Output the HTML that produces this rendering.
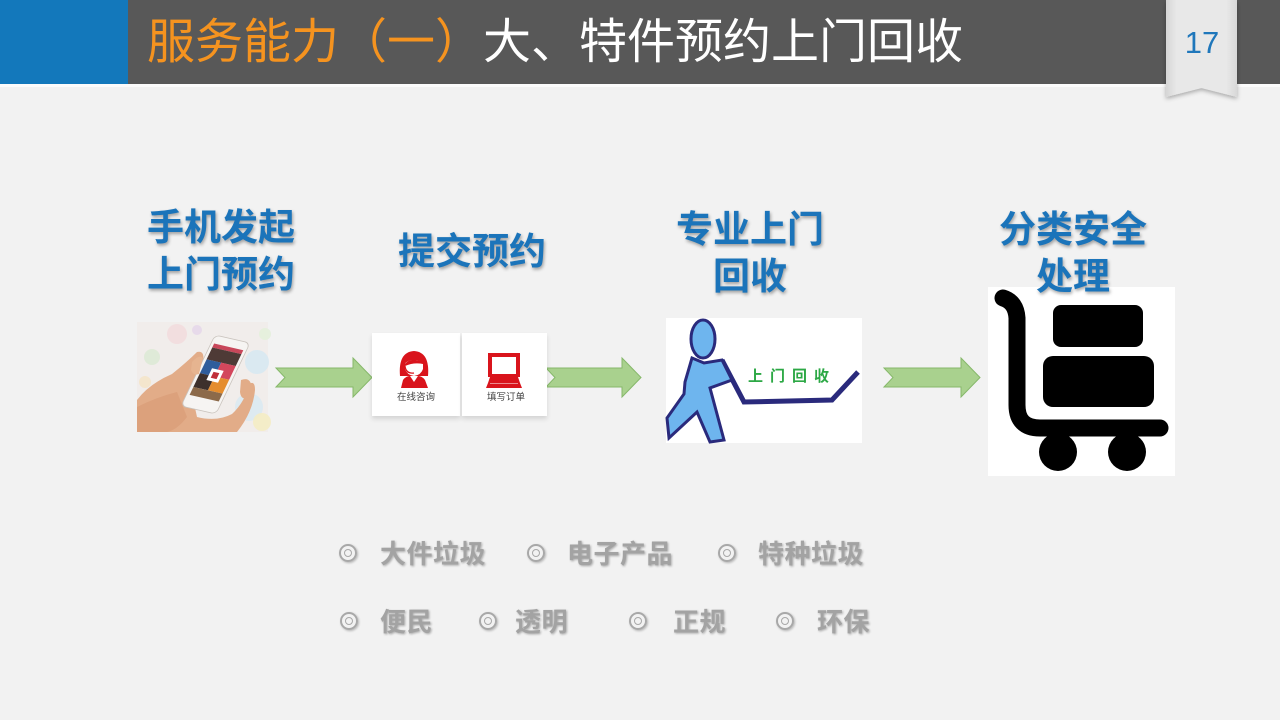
<!DOCTYPE html>
<html><head><meta charset="utf-8">
<style>
html,body{margin:0;padding:0}
body{width:1280px;height:720px;overflow:hidden;background:#f2f2f2;position:relative;font-family:"Liberation Sans","Noto Sans CJK SC",sans-serif}
.abs{position:absolute}
.title{left:147px;top:19px;font-size:48px;line-height:48px;white-space:nowrap;font-family:"Liberation Sans","Noto Sans CJK SC",sans-serif;font-weight:400}
.lbl{position:absolute;width:200px;text-align:center;font-size:37px;line-height:47px;font-weight:bold;color:#1b74ba;text-shadow:1px 2px 3px rgba(0,0,0,0.35);white-space:nowrap;font-family:"Noto Sans CJK SC",sans-serif}
.g{position:absolute;font-size:26px;line-height:30px;font-weight:bold;color:#a3a3a3;letter-spacing:0.5px;text-shadow:1px 1px 2px rgba(0,0,0,0.3);white-space:nowrap;font-family:"Noto Sans CJK SC",sans-serif}
.ring{position:absolute;width:14px;height:14px;border:2px solid #a8a8a8;border-radius:50%;box-shadow:1px 1px 2px rgba(0,0,0,0.25)}
.ring:after{content:"";position:absolute;left:3px;top:3px;width:6px;height:6px;border:1.5px solid #a8a8a8;border-radius:50%}
.small{position:absolute;font-size:9.5px;line-height:12px;color:#444;white-space:nowrap;font-family:"Noto Sans CJK SC",sans-serif}
</style></head>
<body>
<!-- header -->
<div class="abs" style="left:0;top:0;width:128px;height:84px;background:#1378bb"></div>
<div class="abs" style="left:128px;top:0;width:1152px;height:84px;background:#585858"></div>
<div class="abs" style="left:0;top:84px;width:1280px;height:3px;background:#fbfbfb"></div>
<div class="abs title"><span style="color:#f5931f">服务能力（一）</span><span style="color:#ffffff">大、特件预约上门回收</span></div>

<svg class="abs" style="left:0;top:0" width="1280" height="720" viewBox="0 0 1280 720">
  <defs>
    <linearGradient id="rib" x1="0" x2="1" y1="0" y2="0">
      <stop offset="0" stop-color="#d6d6d6"/>
      <stop offset="0.15" stop-color="#e8e8e8"/>
      <stop offset="0.85" stop-color="#e8e8e8"/>
      <stop offset="1" stop-color="#d8d8d8"/>
    </linearGradient>
    <filter id="sh" x="-20%" y="-20%" width="140%" height="140%">
      <feDropShadow dx="0" dy="2" stdDeviation="2" flood-color="#000" flood-opacity="0.3"/>
    </filter>
    <filter id="sh2" x="-10%" y="-10%" width="120%" height="130%">
      <feDropShadow dx="0" dy="3" stdDeviation="2" flood-color="#000" flood-opacity="0.12"/>
    </filter>
  </defs>
  <!-- ribbon -->
  <polygon points="1166,0 1237,0 1237,97 1201.5,88 1166,97" fill="url(#rib)" filter="url(#sh)"/>
  <text x="1202" y="53" text-anchor="middle" font-family="Liberation Sans, sans-serif" font-size="31" fill="#1f77bb">17</text>

  <!-- arrows -->
  <g fill="#a9d18e" stroke="#86b86a" stroke-width="1">
    <polygon points="276,368 353,368 353,358 372,377.5 353,397 353,387 276,387 285,377.5"/>
    <polygon points="546,368 622,368 622,358 641,377.5 622,397 622,387 546,387 555,377.5"/>
    <polygon points="884,368 961,368 961,358 980,377.5 961,397 961,387 884,387 893,377.5"/>
  </g>

  <!-- phone photo -->
  <g transform="translate(137,322)">
    <rect x="0" y="0" width="131" height="110" fill="#f1edeb"/>
    <circle cx="40" cy="12" r="10" fill="#f3d9dc" opacity="0.8"/>
    <circle cx="15" cy="35" r="8" fill="#dbe9d3" opacity="0.8"/>
    <circle cx="120" cy="40" r="12" fill="#d7e8f2" opacity="0.9"/>
    <circle cx="112" cy="85" r="14" fill="#d8e8f3" opacity="0.8"/>
    <circle cx="125" cy="100" r="9" fill="#f4ecc4" opacity="0.9"/>
    <circle cx="8" cy="60" r="6" fill="#f5e3c6" opacity="0.8"/>
    <circle cx="60" cy="8" r="5" fill="#e5d4ea" opacity="0.8"/>
    <circle cx="128" cy="12" r="6" fill="#e4efdc" opacity="0.9"/>
    <!-- hand -->
    <path d="M0,110 L0,78 Q12,62 35,52 Q50,40 60,30 Q68,28 66,40 Q60,55 55,72 L60,95 Q80,100 95,92 Q108,80 112,62 Q118,58 118,68 Q116,90 100,110 Z" fill="#e2ac88"/>
    <path d="M0,110 L0,85 Q20,75 40,70 L50,95 Q40,108 30,110 Z" fill="#d89a74" opacity="0.6"/>
    <!-- phone -->
    <g transform="matrix(0.972,0.222,-0.472,0.986,78,13)">
      <rect x="0" y="0" width="36" height="72" rx="5" fill="#f6f4f2" stroke="#c9c3bd" stroke-width="0.8"/>
      <rect x="3" y="8" width="30" height="4" fill="#c8475a"/>
      <rect x="3" y="12" width="30" height="12" fill="#4e3a36"/>
      <rect x="3" y="24" width="15" height="14" fill="#2f5d9c"/>
      <rect x="18" y="24" width="15" height="14" fill="#d3475c"/>
      <rect x="3" y="38" width="15" height="14" fill="#3d302c"/>
      <rect x="18" y="38" width="15" height="14" fill="#e58d2e"/>
      <rect x="12" y="31" width="12" height="12" fill="#ffffff"/>
      <rect x="15" y="34" width="6" height="6" fill="#c0303a"/>
      <rect x="3" y="52" width="30" height="8" fill="#8c6a4a"/>
    </g>
    <!-- fingers over phone right edge -->
    <path d="M104,58 Q112,55 114,62 L110,76 Q104,78 103,70 Z" fill="#e2ac88"/>
    <path d="M55,40 Q62,32 66,36 L62,52 Q56,54 54,48 Z" fill="#e6b490"/>
  </g>

  <!-- two panels -->
  <rect x="372" y="333" width="88" height="83" fill="#ffffff" filter="url(#sh2)"/>
  <rect x="462" y="333" width="85" height="83" fill="#ffffff" filter="url(#sh2)"/>
  <!-- person icon -->
  <g fill="#d9141c">
    <path d="M400,376 Q398,352 414,351 Q430,352 428,376 Z"/>
    <path d="M401,388 L403,380 Q406,376 410,376 L414,382 L418,376 Q422,376 425,380 L428,388 Z"/>
  </g>
  <path d="M405,364 Q407,360 414,360 Q421,360 423,364 L423,369 Q421,375 414,376 Q407,375 405,369 Z" fill="#ffffff"/>
  <path d="M405,364 Q410,357 423,362 L423,364 Q414,362 405,366 Z" fill="#d9141c"/>
  <path d="M405,366 Q406,374 414,373" fill="none" stroke="#d9141c" stroke-width="1.2"/>
  <!-- monitor icon -->
  <rect x="488" y="353" width="32" height="24" fill="#d9141c"/>
  <rect x="492" y="357" width="24" height="17" fill="#ffffff"/>
  <polygon points="490,377 518,377 520,383 522,388 486,388 488,383" fill="#d9141c"/>
  <rect x="490" y="383" width="28" height="1" fill="#ffffff" opacity="0.5"/>

  <!-- man image -->
  <rect x="666" y="318" width="196" height="125" fill="#ffffff"/>
  <g transform="translate(660,310)" stroke="#2a2a7c" stroke-linejoin="miter">
    <polyline points="62,50 84,92 172,90 198,62" fill="none" stroke-width="5"/>
    <path d="M32,48 L44,53 L62,50 L72,70 L50,78 L64,130 L50,132 L37,102 L9,128 L7,108 L24,84 L25,72 Z" fill="#6eb5ee" stroke-width="3"/>
    <ellipse cx="43" cy="29" rx="12" ry="19" fill="#6eb5ee" stroke-width="3"/>
  </g>
  <text x="748" y="381" font-family="Noto Sans CJK SC, sans-serif" font-size="15" font-weight="bold" fill="#2ca845" letter-spacing="7">上门回收</text>

  <!-- cart image -->
  <rect x="988" y="287" width="187" height="189" fill="#ffffff"/>
  <g fill="#000">
    <path d="M1003,298 Q1016,302 1017,318 L1017,405 Q1017,428 1040,428 L1160,428" fill="none" stroke="#000" stroke-width="17" stroke-linecap="round" stroke-linejoin="round"/>
    <rect x="1053" y="305" width="90" height="42" rx="8"/>
    <rect x="1043" y="356" width="111" height="51" rx="10"/>
    <circle cx="1058" cy="452" r="19"/>
    <circle cx="1127" cy="452" r="19"/>
  </g>
</svg>

<div class="small" style="left:397px;top:390px">在线咨询</div>
<div class="small" style="left:487px;top:390px">填写订单</div>

<!-- step labels -->
<div class="lbl" style="left:121px;top:201px">手机发起<br>上门预约</div>
<div class="lbl" style="left:372px;top:225px">提交预约</div>
<div class="lbl" style="left:650px;top:203px">专业上门<br>回收</div>
<div class="lbl" style="left:973px;top:203px">分类安全<br>处理</div>

<!-- bottom bullets -->
<div class="ring" style="left:339px;top:544px"></div>
<div class="g" style="left:380px;top:538px">大件垃圾</div>
<div class="ring" style="left:527px;top:544px"></div>
<div class="g" style="left:567px;top:538px">电子产品</div>
<div class="ring" style="left:718px;top:544px"></div>
<div class="g" style="left:758px;top:538px">特种垃圾</div>

<div class="ring" style="left:340px;top:612px"></div>
<div class="g" style="left:380px;top:606px">便民</div>
<div class="ring" style="left:479px;top:612px"></div>
<div class="g" style="left:515px;top:606px">透明</div>
<div class="ring" style="left:629px;top:612px"></div>
<div class="g" style="left:673px;top:606px">正规</div>
<div class="ring" style="left:776px;top:612px"></div>
<div class="g" style="left:817px;top:606px">环保</div>
</body></html>
